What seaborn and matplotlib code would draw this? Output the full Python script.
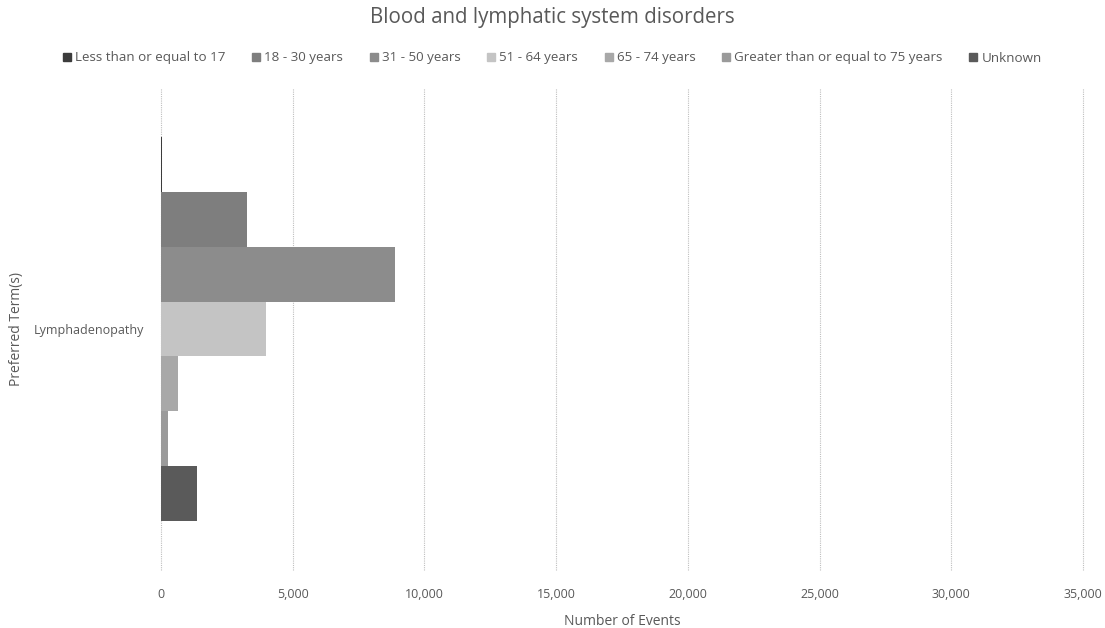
import pandas as pd
import seaborn as sns
import matplotlib.pyplot as plt

# values
terms = ['Lymphadenopathy']
age_groups = ['Less than or equal to 17', '18 - 30 years', '31 - 50 years', '51 - 64 years',
              '65 - 74 years', 'Greater than or equal to 75 years', 'Unknown']
events = [50, 3250, 8900, 4000, 650, 270, 1380]
colors = ['#3c3c3c', '#7e7e7e', '#8c8c8c', '#c4c4c4', '#a8a8a8', '#9a9a9a', '#5a5a5a']
x_ticks = [0, 5000, 10000, 15000, 20000, 25000, 30000, 35000]

data = pd.DataFrame({'term': terms * len(age_groups), 'age': age_groups, 'events': events})

sns.set_style('white')
plt.rcParams['font.family'] = ['Open Sans', 'DejaVu Sans']
txt = '#595959'

fig = plt.figure(figsize=(11.05, 6.28), dpi=100)
ax = fig.add_axes([161 / 1105, 1 - 570 / 628, (1083 - 161) / 1105, (570 - 88) / 628])

sns.barplot(data=data, y='term', x='events', hue='age', hue_order=age_groups,
            palette=colors, orient='h', width=0.795, linewidth=0, saturation=1,
            ax=ax, legend=False)

ax.set_xlim(0, 35000)
ax.set_xticks(x_ticks)
ax.set_xticklabels([f'{t:,}' for t in x_ticks], color=txt, fontsize=9)
ax.tick_params(axis='y', labelsize=9, colors=txt, length=0, pad=12)
ax.tick_params(axis='x', length=0, pad=13)
ax.xaxis.grid(True, color='#bfbfbf', linestyle=(0, (1, 1)), linewidth=0.8)
for gl in ax.get_xgridlines():
    gl.set_clip_on(False)
ax.set_axisbelow(True)
for s in ax.spines.values():
    s.set_visible(False)

ax.set_xlabel('Number of Events', color=txt, fontsize=10, labelpad=9)
ax.set_ylabel('Preferred Term(s)', color=txt, fontsize=10, labelpad=6)
ax.yaxis.set_label_coords(-137 / 922, 0.5)

fig.text(0.5, 1 - 18 / 628, 'Blood and lymphatic system disorders', ha='center', va='center',
         fontsize=14.8, color=txt)

handles = [plt.Rectangle((0, 0), 1, 1, color=c) for c in colors]
fig.legend(handles, age_groups, loc='center', bbox_to_anchor=(0.5, 1 - 58 / 628), ncol=7,
           frameon=False, fontsize=9.6, labelcolor=txt, handlelength=0.6, handleheight=0.6,
           handletextpad=0.3, columnspacing=2.0)

fig.savefig('out.png', dpi=100)
